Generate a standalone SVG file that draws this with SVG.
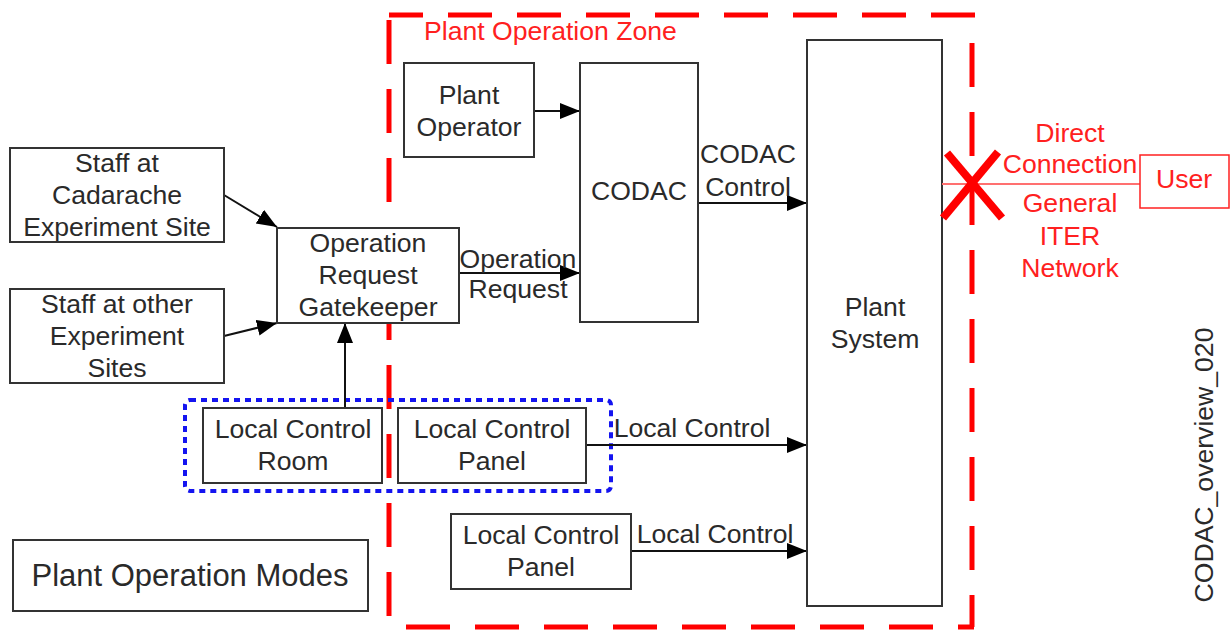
<svg xmlns="http://www.w3.org/2000/svg" width="1231" height="631" viewBox="0 0 1231 631">
<defs>
<marker id="ah" markerUnits="userSpaceOnUse" markerWidth="22" markerHeight="18" refX="20" refY="8" orient="auto">
<path d="M0,0 L20,8 L0,16 z" fill="#000"/>
</marker>
<style>
.box{fill:#fff;stroke:#333;stroke-width:2}
.t{font-family:"Liberation Sans",Arial,sans-serif;font-size:26.6px;fill:#2a2a2a;text-anchor:middle}
.r{fill:#ff2020}
.zone{stroke:#ff0000;stroke-width:5;fill:none;stroke-dasharray:44 25}
.con{stroke:#111;stroke-width:2;fill:none;marker-end:url(#ah)}
</style>
</defs>
<rect width="1231" height="631" fill="#fff"/>
<g id="zone">
<line class="zone" x1="389" y1="15" x2="978" y2="15" stroke-dashoffset="10"/>
<line class="zone" x1="389" y1="20" x2="389" y2="627"/>
<line class="zone" x1="972" y1="43" x2="972" y2="627"/>
<line class="zone" x1="406" y1="627" x2="974" y2="627"/>
<text class="t r" x="424" y="40" style="text-anchor:start">Plant Operation Zone</text>
</g>
<g id="local-group">
<rect x="185" y="400" width="426" height="91" rx="5" fill="none" stroke="#1414f0" stroke-width="4" stroke-dasharray="6 5"/>
</g>
<g id="connectors">
<line class="con" x1="534" y1="111" x2="580" y2="111"/>
<line class="con" x1="698" y1="203" x2="807" y2="203"/>
<line class="con" x1="459" y1="273" x2="580" y2="273"/>
<line class="con" x1="224" y1="195" x2="277" y2="227"/>
<line class="con" x1="224" y1="336" x2="277" y2="323"/>
<line class="con" x1="345" y1="408" x2="345" y2="323"/>
<line class="con" x1="586" y1="445" x2="807" y2="445"/>
<line class="con" x1="631" y1="551" x2="807" y2="551"/>
<text class="t" x="748" y="163">CODAC</text>
<text class="t" x="748" y="196">Control</text>
<text class="t" x="518" y="268">Operation</text>
<text class="t" x="518" y="298">Request</text>
<text class="t" x="692" y="437">Local Control</text>
<text class="t" x="715" y="543">Local Control</text>
</g>
<g id="plant-operator">
<rect class="box" x="404" y="63" width="130" height="94"/>
<text class="t" x="469" y="104">Plant</text>
<text class="t" x="469" y="136">Operator</text>
</g>
<g id="codac">
<rect class="box" x="580" y="63" width="118" height="259"/>
<text class="t" x="639" y="200">CODAC</text>
</g>
<g id="plant-system">
<rect class="box" x="807" y="40" width="135" height="566"/>
<text class="t" x="875" y="316">Plant</text>
<text class="t" x="875" y="348">System</text>
</g>
<g id="staff-cadarache">
<rect class="box" x="10" y="148" width="214" height="94"/>
<text class="t" x="117" y="172">Staff at</text>
<text class="t" x="117" y="204">Cadarache</text>
<text class="t" x="117" y="236">Experiment Site</text>
</g>
<g id="staff-other">
<rect class="box" x="10" y="289" width="214" height="94"/>
<text class="t" x="117" y="313">Staff at other</text>
<text class="t" x="117" y="345">Experiment</text>
<text class="t" x="117" y="377">Sites</text>
</g>
<g id="gatekeeper">
<rect class="box" x="277" y="228" width="182" height="95"/>
<text class="t" x="368" y="252">Operation</text>
<text class="t" x="368" y="284">Request</text>
<text class="t" x="368" y="316">Gatekeeper</text>
</g>
<g id="local-control-room">
<rect class="box" x="203" y="408" width="179" height="75"/>
<text class="t" x="293" y="438">Local Control</text>
<text class="t" x="293" y="470">Room</text>
</g>
<g id="local-control-panel-1">
<rect class="box" x="398" y="408" width="188" height="75"/>
<text class="t" x="492" y="438">Local Control</text>
<text class="t" x="492" y="470">Panel</text>
</g>
<g id="local-control-panel-2">
<rect class="box" x="451" y="514" width="180" height="75"/>
<text class="t" x="541" y="544">Local Control</text>
<text class="t" x="541" y="576">Panel</text>
</g>
<g id="plant-operation-modes">
<rect class="box" x="13" y="540" width="355" height="71"/>
<text class="t" x="190" y="586" style="font-size:31px">Plant Operation Modes</text>
</g>
<g id="user-link">
<line x1="942" y1="184" x2="1140" y2="184" stroke="#ff7070" stroke-width="2"/>
<line x1="947" y1="153" x2="1002" y2="218" stroke="#ff0000" stroke-width="8"/>
<line x1="998" y1="152" x2="943" y2="218" stroke="#ff0000" stroke-width="8"/>
<text class="t r" x="1070" y="142">Direct</text>
<text class="t r" x="1070" y="173">Connection</text>
<text class="t r" x="1070" y="212">General</text>
<text class="t r" x="1070" y="245">ITER</text>
<text class="t r" x="1070" y="277">Network</text>
</g>
<g id="user">
<rect x="1140" y="155" width="89" height="53" fill="#fff" stroke="#ff2020" stroke-width="1.5"/>
<text class="t r" x="1184" y="188">User</text>
</g>
<text class="t" transform="translate(1213,465) rotate(-90)" fill="#333">CODAC_overview_020</text>
</svg>
